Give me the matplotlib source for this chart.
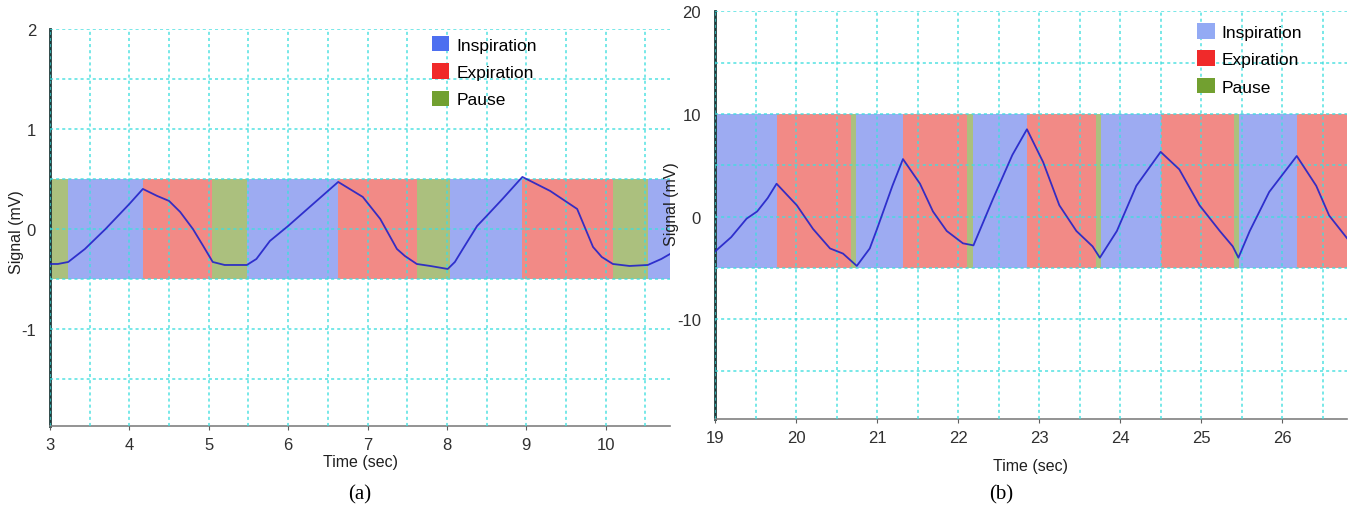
import numpy as np
import matplotlib
matplotlib.use("Agg")
import matplotlib.pyplot as plt
from matplotlib.patches import Patch
from matplotlib.ticker import MultipleLocator

# ---- panel (a) ----
a_t = [3.0, 3.1, 3.23, 3.44, 3.7, 4.0, 4.17, 4.35, 4.5, 4.64, 4.8, 4.93, 5.05, 5.2, 5.48,
       5.6, 5.77, 6.0, 6.3, 6.63, 6.94, 7.16, 7.37, 7.47, 7.62, 7.79, 8.01, 8.1, 8.2, 8.38,
       8.5, 8.7, 8.95, 9.3, 9.64, 9.84, 9.95, 10.09, 10.3, 10.53, 10.7, 10.81]
a_v = [-0.35, -0.35, -0.33, -0.2, 0.0, 0.25, 0.4, 0.33, 0.28, 0.17, 0.0, -0.17, -0.33, -0.36, -0.36,
       -0.3, -0.12, 0.03, 0.24, 0.47, 0.32, 0.1, -0.2, -0.27, -0.35, -0.37, -0.4, -0.33, -0.2, 0.03,
       0.13, 0.3, 0.52, 0.38, 0.2, -0.18, -0.28, -0.35, -0.37, -0.36, -0.3, -0.25]
a_edges = [3.0, 3.23, 4.17, 5.04, 5.48, 6.63, 7.62, 8.04, 8.95, 10.09, 10.53, 10.81]
a_phase = ["P", "I", "E", "P", "I", "E", "P", "I", "E", "P", "I"]
a_band = (-0.5, 0.5)

# ---- panel (b) ----
b_t = [19.0, 19.2, 19.39, 19.52, 19.65, 19.76, 20.01, 20.21, 20.42, 20.58, 20.75, 20.91, 21.0,
       21.19, 21.32, 21.53, 21.69, 21.86, 22.06, 22.19, 22.43, 22.67, 22.85, 23.05, 23.25, 23.46,
       23.66, 23.75, 23.96, 24.2, 24.5, 24.73, 24.98, 25.23, 25.39, 25.46, 25.6, 25.84, 26.18,
       26.42, 26.58, 26.8]
b_v = [-3.4, -2.0, -0.2, 0.5, 1.8, 3.2, 1.1, -1.2, -3.1, -3.6, -4.8, -3.1, -1.2,
       3.0, 5.6, 3.2, 0.5, -1.4, -2.6, -2.8, 1.7, 6.0, 8.5, 5.3, 1.1, -1.4,
       -2.9, -4.0, -1.4, 3.0, 6.3, 4.6, 1.1, -1.4, -2.9, -4.0, -1.4, 2.4, 5.9,
       3.0, 0.1, -2.1]
b_edges = [19.0, 19.76, 20.68, 20.74, 21.32, 22.11, 22.19, 22.85, 23.70, 23.77, 24.51, 25.40,
           25.47, 26.18, 26.8]
b_phase = ["I", "E", "P", "I", "E", "P", "I", "E", "P", "I", "E", "P", "I", "E"]
b_band = (-5, 10)

band_col = {"I": "#9dabf2", "E": "#f28a86", "P": "#abc07e"}
grid_col = "#3fdede"

plt.rcParams["font.family"] = ["Liberation Sans", "DejaVu Sans"]
plt.rcParams["axes.unicode_minus"] = False


def panel(ax, t, v, edges, phase, band, xlim, ylim, xmin, ymaj, ymin, leg_cols, leg_pos,
          ylab_pos, xpad):
    for i in range(len(phase)):
        ax.fill_between([edges[i], edges[i + 1]], band[0], band[1],
                        color=band_col[phase[i]], lw=0, zorder=1)
    ax.plot(t, v, color="#2222c8", lw=1.3, alpha=0.9, zorder=3)
    ax.set_xlim(*xlim)
    ax.set_ylim(*ylim)
    ax.xaxis.set_major_locator(MultipleLocator(1))
    ax.xaxis.set_minor_locator(MultipleLocator(xmin))
    ax.yaxis.set_major_locator(MultipleLocator(ymaj))
    ax.yaxis.set_minor_locator(MultipleLocator(ymin))
    ax.set_axisbelow(False)
    ax.grid(which="both", color=grid_col, ls=(0, (2, 2)), lw=1.1, alpha=0.9)
    ax.spines["top"].set_visible(False)
    ax.spines["right"].set_visible(False)
    ax.spines["left"].set_color("#1e3a3a")
    ax.spines["left"].set_linewidth(2)
    ax.spines["bottom"].set_color("#808080")
    ax.spines["bottom"].set_linewidth(1.2)
    ax.tick_params(axis="x", which="major", length=3, color="#606060", labelsize=12,
                   labelcolor="#303030", pad=5)
    ax.tick_params(axis="x", which="minor", length=0)
    ax.tick_params(axis="y", which="both", length=0, labelsize=12, labelcolor="#303030", pad=10)
    ax.set_xlabel("Time (sec)", fontsize=11.5, color="#202020", labelpad=xpad)
    ax.set_ylabel("Signal (mV)", fontsize=11.5, color="#202020")
    ax.yaxis.set_label_coords(*ylab_pos)
    handles = [Patch(facecolor=c, edgecolor="none", label=l)
               for c, l in zip(leg_cols, ["Inspiration", "Expiration", "Pause"])]
    ax.legend(handles=handles, loc="upper left", bbox_to_anchor=leg_pos, frameon=False,
              fontsize=12.5, handlelength=1.0, handleheight=1.0, handletextpad=0.4,
              labelspacing=0.62, borderaxespad=0)


fig = plt.figure(figsize=(13.58, 5.06), dpi=100)

ax1 = fig.add_axes([0.0368, 0.156, 0.4566, 0.785])
panel(ax1, a_t, a_v, a_edges, a_phase, a_band, (3, 10.81), (-1.97, 2), 0.5, 1, 0.5,
      ["#4d6ff0", "#f02a2a", "#72a030"], (0.605, 1.0), (-0.042, 0.49), 1)

ax2 = fig.add_axes([0.5265, 0.17, 0.4654, 0.806])
panel(ax2, b_t, b_v, b_edges, b_phase, b_band, (19, 26.8), (-19.7, 20), 0.5, 10, 5,
      ["#93aaf4", "#f02a2a", "#72a030"], (0.752, 0.988), (-0.057, 0.53), 9)

fig.text(0.265, 0.012, "(a)", fontsize=15, family="Liberation Serif", ha="center")
fig.text(0.737, 0.012, "(b)", fontsize=15, family="Liberation Serif", ha="center")

fig.savefig("out.png", dpi=100)
